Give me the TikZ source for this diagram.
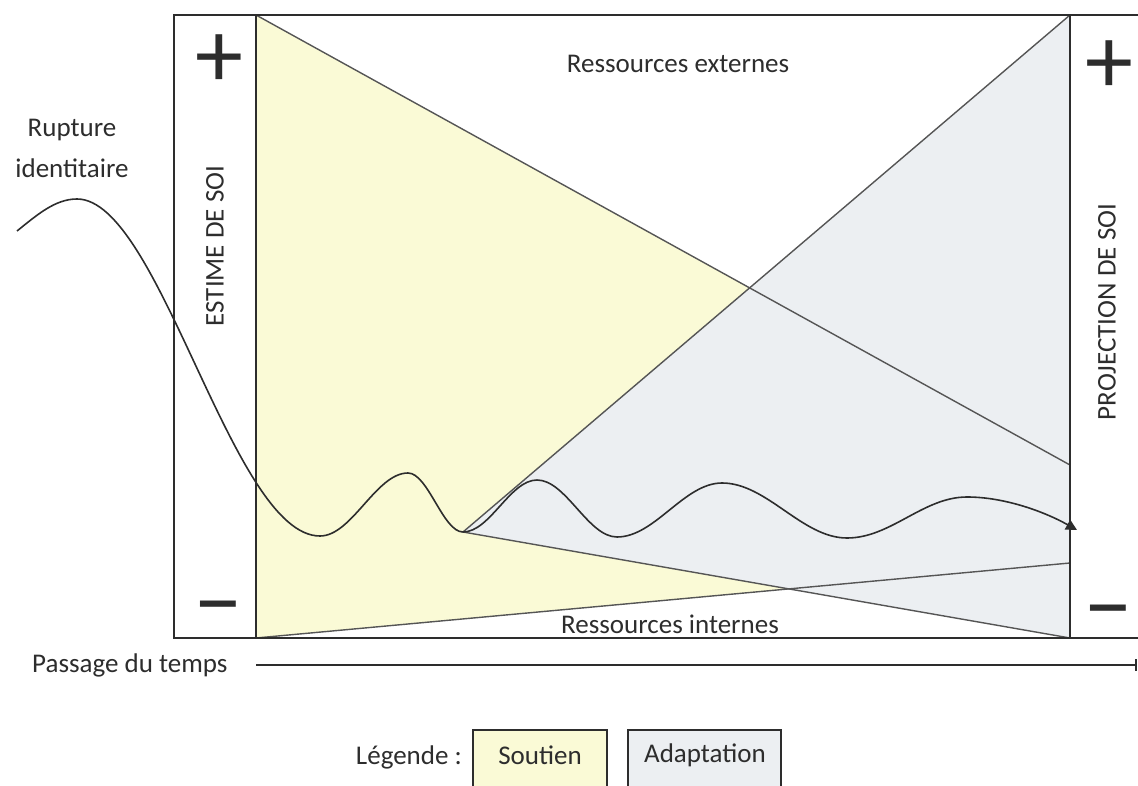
\documentclass[tikz,border=0pt]{standalone}
\usepackage{fontspec}
\setmainfont{Carlito}
\usetikzlibrary{arrows.meta}
\definecolor{soutien}{RGB}{250,250,214}
\definecolor{adapt}{RGB}{236,239,242}
\definecolor{ink}{RGB}{45,45,45}
\definecolor{edge}{RGB}{85,85,85}
\begin{document}
\begin{tikzpicture}[x=1pt,y=-1pt,
  lbl/.style={font=\fontsize{27}{32}\selectfont, text=ink, inner sep=0pt},
  sign/.style={font=\fontsize{96}{96}\selectfont, text=ink, inner sep=0pt},
  frameline/.style={draw=ink, line width=2pt},
  edgeline/.style={draw=edge, line width=1.4pt},
  curveline/.style={draw=ink, line width=1.6pt},
  legbox/.style={draw=ink, line width=1.6pt}]
\useasboundingbox (0,0) rectangle (1138,786);

% key points
\coordinate (tl) at (256,15);
\coordinate (bl) at (256,638);
\coordinate (tr) at (1070,15);
\coordinate (br) at (1070,638);
\coordinate (ye) at (1070,465);
\coordinate (yi) at (1070,563);
\coordinate (apex) at (463,532);

% fills
\fill[soutien] (tl) -- (ye) -- (yi) -- (bl) -- cycle;
\fill[adapt] (apex) -- (tr) -- (br) -- cycle;

% edges
\draw[edgeline] (tl) -- (ye);
\draw[edgeline] (bl) -- (yi);
\draw[edgeline] (apex) -- (tr);
\draw[edgeline] (apex) -- (br);

% frame
\draw[frameline] (1138,15) -- (174,15) -- (174,638) -- (1138,638);
\draw[frameline] (tl) -- (bl);
\draw[frameline] (tr) -- (br);

% signs
\node[sign] (plusL) at (219,61) {+};
\node[sign] (plusR) at (1109,67) {+};
\node[sign] (minusL) at (218,618) {−};
\node[sign] (minusR) at (1108,622) {−};

% labels
\node[lbl] (ext) at (678,64) {Ressources externes};
\node[lbl] (int) at (670,624) {Ressources internes};
\node[lbl, rotate=90] (estime) at (215,246) {ESTIME DE SOI};
\node[lbl, rotate=90] (proj) at (1107,312) {PROJECTION DE SOI};
\node[lbl] (rup1) at (72,130) {Rupture};
\node[lbl] (rup2) at (72,168) {identitaire};

% curve
\draw[curveline, -{Triangle[length=11pt,width=11pt]}]
  (17,231) .. controls (37,215) and (55,199) .. (77,199)
  .. controls (160,199) and (232,536) .. (320,536)
  .. controls (352,536) and (376,473) .. (408,473)
  .. controls (428,473) and (443,532) .. (463,532)
  .. controls (490,532) and (510,480) .. (537,480)
  .. controls (566,480) and (588,537) .. (617,537)
  .. controls (655,537) and (684,483) .. (722,483)
  .. controls (767,483) and (802,538) .. (847,538)
  .. controls (891,538) and (923,497) .. (967,497)
  .. controls (1005,497) and (1045,512) .. (1077,530);

% time axis
\node[lbl, anchor=west] (temps) at (32,665) {Passage du temps};
\coordinate (tstart) at (256,665);
\coordinate (tend) at (1137,665);
\draw[draw=ink, line width=1.6pt, -{Bar[width=12pt,line width=2.5pt]}] (tstart) -- (tend);

% legend
\node[lbl, anchor=east] (leg) at (462,757) {Légende :};
\fill[soutien] (473,730) rectangle (607,786);
\draw[legbox] (473,786) -- (473,730) -- (607,730) -- (607,786);
\node[lbl] (sout) at (540,755) {Soutien};
\fill[adapt] (628,730) rectangle (781,786);
\draw[legbox] (628,786) -- (628,730) -- (781,730) -- (781,786);
\node[lbl] (adap) at (705,755) {Adaptation};
\end{tikzpicture}
\end{document}
